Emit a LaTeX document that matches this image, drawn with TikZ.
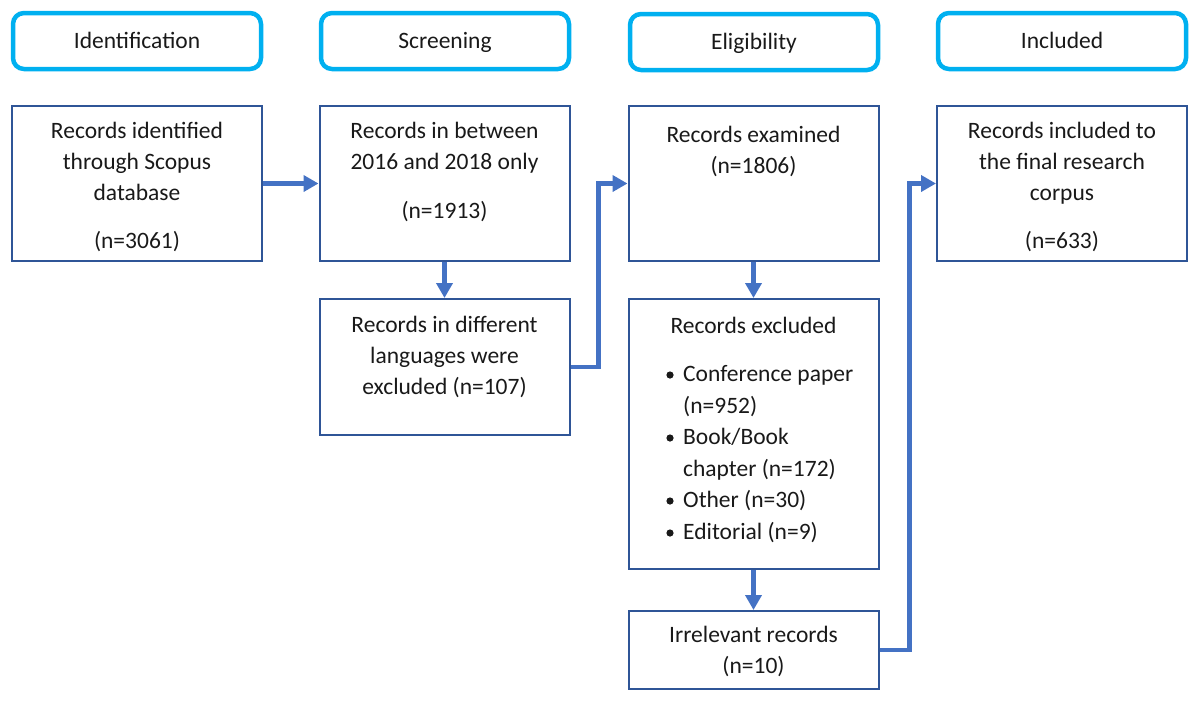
\documentclass[tikz,border=0pt]{standalone}
\usepackage{fontspec}
\setmainfont{Carlito}
\usetikzlibrary{arrows.meta}
\definecolor{hdrcyan}{HTML}{00B0F0}
\definecolor{boxblue}{HTML}{2F5597}
\definecolor{arrblue}{HTML}{4472C4}
\begin{document}
\begin{tikzpicture}[x=1pt,y=-1pt,
  every node/.style={font=\fontsize{23.5}{31}\selectfont, text=black!90},
  hdr/.style={draw=hdrcyan, line width=4.5pt, rounded corners=11pt, minimum width=248pt, minimum height=56pt, inner sep=0pt, text height=16pt, text depth=1pt},
  mainbox/.style={draw=boxblue, line width=2pt, minimum width=250pt, inner sep=0pt},
  txt/.style={align=center, inner sep=0pt},
  arr/.style={draw=arrblue, line width=4.5pt, -{Triangle[length=15pt,width=16pt]}}
]
\useasboundingbox (0,0) rectangle (1200,702);
% headers
\node[hdr] (h1) at (137,41) {Identification};
\node[hdr] (h2) at (445,41) {Screening};
\node[hdr] (h3) at (754,42) {Eligibility};
\node[hdr] (h4) at (1062,41) {Included};
% boxes
\node[mainbox, minimum height=155pt] (A) at (137,183.5) {};
\node[mainbox, minimum height=155pt] (B) at (444.5,183.5) {};
\node[mainbox, minimum height=136pt] (C) at (444.5,367) {};
\node[mainbox, minimum height=155pt] (D) at (753.5,183.5) {};
\node[mainbox, minimum height=270pt] (E) at (753.5,434) {};
\node[mainbox, minimum height=78pt] (F) at (753.5,650) {};
\node[mainbox, minimum height=155pt] (G) at (1062,183.5) {};
% texts
\node[txt] (tA) at (137,187) {Records identified\\through Scopus\\database\\[17pt](n=3061)};
\node[txt] (tB) at (444.5,172) {Records in between\\2016 and 2018 only\\[18pt](n=1913)};
\node[txt] (tC) at (444.5,356.5) {Records in different\\languages were\\excluded (n=107)};
\node[txt] (tD) at (753.5,151.5) {Records examined\\(n=1806)};
\node[txt] (tE) at (753.5,325) {Records excluded};
\node[txt, align=left, anchor=west, font=\fontsize{23.5}{31.6}\selectfont] (tL) at (683,454) {Conference paper\\(n=952)\\Book/Book\\chapter (n=172)\\Other (n=30)\\Editorial (n=9)};
\foreach \yy in {375,438,501,533} \fill[black!90] (670,\yy) circle (3.6pt);
\node[txt] (tF) at (753.5,651) {Irrelevant records\\(n=10)};
\node[txt] (tG) at (1062,187) {Records included to\\the final research\\corpus\\[17pt](n=633)};
% arrows
\draw[arr] (A) -- (B);
\draw[arr] (B) -- (C);
\draw[arr] (C.east) -- ++(28,0) |- (D.west);
\draw[arr] (D) -- (E);
\draw[arr] (E) -- (F);
\draw[arr] (F.east) -- ++(30,0) |- (G.west);
\end{tikzpicture}
\end{document}
